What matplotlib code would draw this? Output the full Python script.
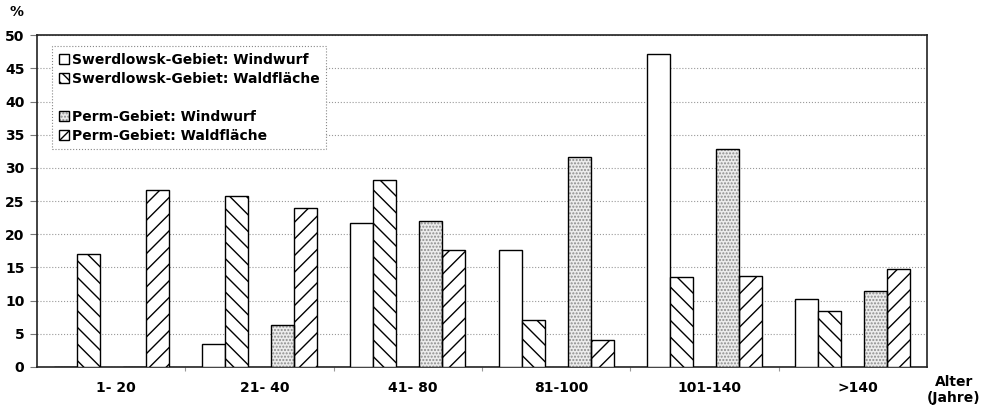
import numpy as np
import matplotlib
matplotlib.use("Agg")
import matplotlib.pyplot as plt
import matplotlib.transforms as mtransforms
from matplotlib.patches import Patch

# the scan has wide, heavy lettering - DejaVu bold is closer than Arial
plt.rcParams['font.family'] = ['DejaVu Sans']
plt.rcParams['font.weight'] = 'bold'
plt.rcParams['hatch.linewidth'] = 1.0

# age classes and the four series (percent)
categories = ["1- 20", "21- 40", "41- 80", "81-100", "101-140", ">140"]
swerd_windwurf = [0, 3.5, 21.7, 17.7, 47.2, 10.3]
swerd_wald = [17.1, 25.8, 28.2, 7.1, 13.6, 8.5]
perm_windwurf = [0, 6.3, 22.0, 31.6, 32.9, 11.5]
perm_wald = [26.6, 24.0, 17.7, 4.1, 13.7, 14.7]

labels = ["Swerdlowsk-Gebiet: Windwurf", "Swerdlowsk-Gebiet: Waldfläche",
          "Perm-Gebiet: Windwurf", "Perm-Gebiet: Waldfläche"]

fs = 10

fig = plt.figure(figsize=(9.83, 4.09), dpi=100)
ax = fig.add_axes([0.0376, 0.1027, 0.9054, 0.8113])

x = np.arange(len(categories))
w = 0.155

# white bars
ax.bar(x - 2*w, swerd_windwurf, w, facecolor='white', edgecolor='black', linewidth=1, zorder=3)
# backslash hatch
ax.bar(x - w, swerd_wald, w, facecolor='white', edgecolor='black', hatch='\\\\', linewidth=1, zorder=3)
# stippled grey: dots first, then a black outline on top
ax.bar(x + w, perm_windwurf, w, facecolor='#ececec', edgecolor='#8c8c8c', hatch='.....', linewidth=0, zorder=3)
ax.bar(x + w, perm_windwurf, w, fill=False, edgecolor='black', linewidth=1, zorder=4)
# forward hatch
ax.bar(x + 2*w, perm_wald, w, facecolor='white', edgecolor='black', hatch='//', linewidth=1, zorder=3)

ax.set_xlim(-0.5, len(categories) - 0.5)
ax.set_ylim(0, 50)
ax.set_yticks(np.arange(0, 51, 5))
ax.yaxis.grid(True, linestyle=':', color='#999999', linewidth=0.8, zorder=0)
ax.tick_params(axis='y', length=5, width=0.8, color='#777777', labelsize=fs, pad=4)

ax.set_xticks(x)
ax.set_xticklabels(categories)
ax.tick_params(axis='x', length=0, labelsize=fs, pad=10)
# labels in the scan sit a few pixels right of the group centre
shift = mtransforms.ScaledTranslation(5/100, 0, fig.dpi_scale_trans)
for lab in ax.get_xticklabels():
    lab.set_transform(lab.get_transform() + shift)
# little marks between the age classes
ax.set_xticks(np.arange(0.5, len(categories) - 0.5, 1), minor=True)
ax.tick_params(axis='x', which='minor', length=3, width=0.8, color='#999999')

for s in ax.spines.values():
    s.set_linewidth(1.2)
    s.set_color('#222222')

# legend with a gap line between the two regions
h1 = Patch(facecolor='white', edgecolor='black')
h2 = Patch(facecolor='white', edgecolor='black', hatch='\\\\\\')
h3 = (Patch(facecolor='#ececec', edgecolor='#8c8c8c', hatch='.....', linewidth=0),
      Patch(fill=False, edgecolor='black'))
h4 = Patch(facecolor='white', edgecolor='black', hatch='///')
blank = Patch(facecolor='none', edgecolor='none')
leg = ax.legend([h1, h2, blank, h3, h4], [labels[0], labels[1], " ", labels[2], labels[3]],
                loc='upper left', bbox_to_anchor=(0.017, 0.967), borderaxespad=0,
                fontsize=fs, handlelength=0.75, handleheight=0.75, handletextpad=0.15,
                labelspacing=0.35, borderpad=0.5, fancybox=False, framealpha=1)
leg.get_frame().set_linestyle(':')
leg.get_frame().set_edgecolor('#888888')
leg.get_frame().set_linewidth(0.8)

fig.text(10/983, 1 - 12/409, "%", fontsize=fs, ha='left', va='center')
fig.text(954/983, 1 - 390/409, "Alter\n(Jahre)", fontsize=fs, ha='center', va='center',
         linespacing=1.1)

fig.savefig("out.png", dpi=100)
